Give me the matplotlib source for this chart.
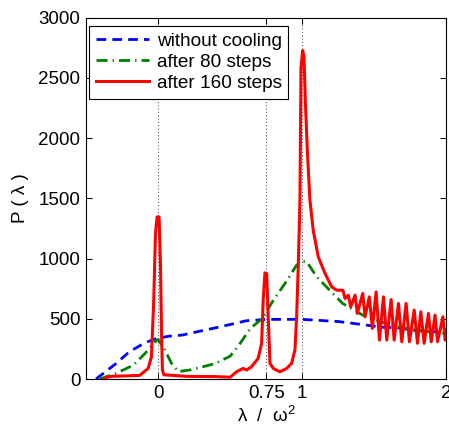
import matplotlib
matplotlib.use("Agg")
import matplotlib.pyplot as plt

plt.rcParams['font.family'] = ['Liberation Sans', 'DejaVu Sans']
plt.rcParams['mathtext.fontset'] = 'custom'
plt.rcParams['mathtext.rm'] = 'Liberation Sans'
plt.rcParams['mathtext.it'] = 'Liberation Sans'

# without cooling
x_blue = [-0.43, -0.29, -0.20, -0.09, -0.01, 0.08, 0.17, 0.27, 0.43, 0.61, 0.75,
          1.00, 1.25, 1.39, 1.55, 1.66, 1.80, 1.90, 2.00]
y_blue = [0, 130, 226, 301, 337, 356, 365, 392, 433, 483, 495,
          495, 477, 456, 430, 425, 400, 395, 380]

# after 80 steps
x_green = [-0.405, -0.29, -0.17, -0.09, -0.02, 0.0, 0.047, 0.093, 0.14, 0.22, 0.30,
           0.40, 0.50, 0.56, 0.64, 0.72, 0.80, 0.88, 0.96, 1.00, 1.03, 1.10, 1.19,
           1.28, 1.42, 1.61, 1.79, 2.00]
y_green = [0, 47, 116, 213, 309, 329, 240, 130, 62, 75, 98,
           130, 190, 280, 420, 500, 655, 793, 944, 975, 975, 848, 737,
           627, 530, 447, 406, 375]

# after 160 steps
x_red = [-0.37, -0.324, -0.127, -0.069, -0.046, -0.030, -0.018, -0.007, 0.007, 0.017,
         0.024, 0.030, 0.040, 0.20, 0.40, 0.50, 0.544, 0.59, 0.614, 0.648, 0.694,
         0.718, 0.729, 0.741, 0.753, 0.764, 0.776, 0.799, 0.845, 0.892, 0.926,
         0.949, 0.961, 0.972, 0.984, 0.991, 1.003, 1.012, 1.021, 1.035, 1.053,
         1.076, 1.111, 1.158, 1.204, 1.239, 1.281, 1.297, 1.319, 1.336, 1.366,
         1.382, 1.419, 1.435, 1.465, 1.486, 1.512, 1.535, 1.563, 1.586, 1.616,
         1.637, 1.667, 1.690, 1.720, 1.743, 1.776, 1.799, 1.822, 1.845, 1.875,
         1.894, 1.921, 1.938, 1.975, 1.991, 2.00]
y_red = [8, 22, 30, 88, 185, 655, 1207, 1345, 1345, 930,
         379, 75, 35, 22, 20, 15, 60, 88, 75, 102, 171,
         296, 655, 881, 876, 516, 130, 88, 60, 88, 130,
         240, 516, 930, 1483, 2587, 2726, 2670, 2311, 1897, 1483,
         1234, 1013, 876, 765, 737, 737, 668, 696, 599, 696,
         544, 710, 516, 682, 420, 723, 323, 682, 323, 660,
         323, 627, 309, 627, 309, 572, 296, 558, 296, 544,
         309, 530, 309, 516, 323, 406]

xticks = [0, 0.75, 1, 2]
xticklabels = ['0', '0.75', '1', '2']
yticks = [0, 500, 1000, 1500, 2000, 2500, 3000]
vlines = [0, 0.75, 1]
labels = ['without cooling', 'after 80 steps', 'after 160 steps']

fig = plt.figure(figsize=(4.49, 4.25), dpi=100)
ax = fig.add_axes([0.1915, 0.1082, 0.8029, 0.8506])

for v in vlines:
    ax.axvline(v, color='k', lw=0.6, linestyle=(0, (1, 3)), zorder=1)

ax.plot(x_blue, y_blue, color='#0000ff', lw=2.0, linestyle=(0, (3.5, 2.2)), label=labels[0], zorder=2)
ax.plot(x_green, y_green, color='#008000', lw=2.0, linestyle=(0, (4.0, 1.8, 0.5, 1.8)), label=labels[1], zorder=3)
ax.plot(x_red, y_red, color='#ff0000', lw=2.2, linestyle='-', label=labels[2], zorder=4)

ax.set_xlim(-0.5, 2)
ax.set_ylim(0, 3000)
ax.set_xticks(xticks)
ax.set_xticklabels(xticklabels)
ax.set_yticks(yticks)
ax.tick_params(direction='in', top=True, right=True, length=4, width=0.75,
               labelsize=13.5, pad=4, colors='k')
for s in ax.spines.values():
    s.set_linewidth(0.8)

ax.set_ylabel('P ( λ )', fontsize=13.5, labelpad=7)
ax.set_xlabel('λ  /  ω$^2$', fontsize=13.5, labelpad=3)

leg = ax.legend(loc='upper left', bbox_to_anchor=(0.009, 0.977), borderaxespad=0,
                fontsize=13.7, handlelength=2.8, handletextpad=0.4, labelspacing=0.2,
                borderpad=0.35, fancybox=False, framealpha=1, edgecolor='k')
leg.get_frame().set_linewidth(0.8)
leg.set_zorder(10)

fig.savefig('out.png', dpi=100)
